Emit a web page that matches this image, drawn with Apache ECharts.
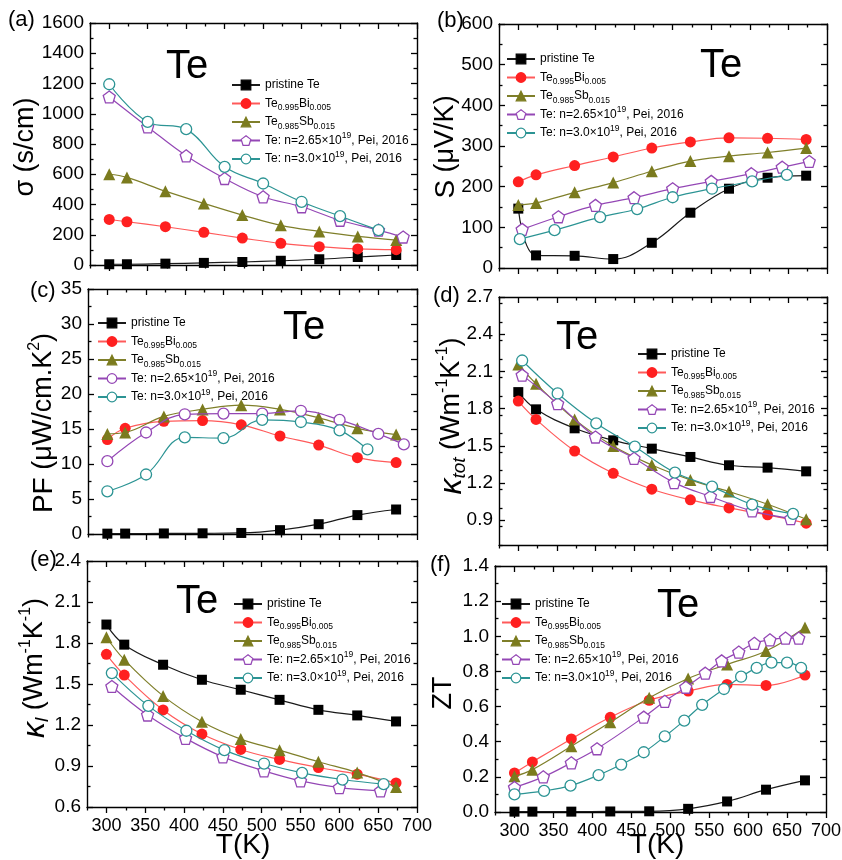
<!DOCTYPE html>
<html>
<head>
<meta charset="utf-8">
<script src="https://cdn.jsdelivr.net/npm/echarts@6/dist/echarts.min.js"></script>
<style>
  html, body { margin: 0; padding: 0; background: #fff; }
  #chart { width: 842px; height: 860px; }
</style>
</head>
<body>
<div id="chart"></div>
<script>
// ---------- measured data ----------
// temperatures shared by pristine Te, Te0.995Bi0.005 and Te0.985Sb0.015
const T_SAMPLE = [300, 323, 373, 423, 473, 523, 573, 623, 673];

// (a) electrical conductivity, S/cm
const sigmaPristine = [5, 5, 9, 14, 20, 28, 38, 53, 66];
const sigmaBi = [301, 286, 253, 216, 178, 143, 121, 106, 101];
const sigmaSb = [600, 579, 488, 407, 330, 262, 222, 189, 165];
const sigmaPei265T = [300, 350, 400, 450, 500, 550, 600, 650, 682];
const sigmaPei265 = [1111, 913, 722, 572, 451, 385, 296, 231, 185];
const sigmaPei30T = [300, 350, 400, 450, 500, 550, 600, 650];
const sigmaPei30 = [1195, 946, 898, 649, 539, 418, 323, 231];

// (b) Seebeck coefficient, uV/K
const seebeckPristine = [146, 31, 30, 22, 62, 136, 195, 222, 227];
const seebeckBi = [212, 229, 252, 273, 295, 310, 320, 319, 316];
const seebeckSb = [155, 160, 186, 210, 238, 263, 275, 284, 295];
const seebeckPei265T = [305, 352, 400, 450, 500, 550, 602, 642, 677];
const seebeckPei265 = [95, 126, 154, 173, 195, 213, 232, 248, 262];
const seebeckPei30T = [302, 347, 406, 454, 500, 551, 603, 648];
const seebeckPei30 = [71, 93, 125, 145, 174, 195, 213, 229];

// (c) power factor, uW/cm.K^2
const pfPristine = [0.05, 0.06, 0.08, 0.1, 0.15, 0.55, 1.4, 2.7, 3.5];
const pfBi = [13.5, 15.1, 16.1, 16.2, 15.6, 14.0, 12.7, 10.9, 10.2];
const pfSb = [14.3, 14.5, 16.8, 17.8, 18.4, 17.8, 16.6, 15.1, 14.2];
const pfPei265T = [300, 350, 400, 450, 500, 550, 600, 650, 683];
const pfPei265 = [10.4, 14.5, 17.1, 17.2, 17.2, 17.6, 16.3, 14.3, 12.8];
const pfPei30T = [300, 350, 400, 450, 500, 550, 600, 636];
const pfPei30 = [6.1, 8.5, 13.8, 13.7, 16.3, 16.0, 14.8, 12.1];

// (d) total thermal conductivity, W/mK
const ktotPristine = [1.933, 1.794, 1.641, 1.544, 1.477, 1.410, 1.343, 1.324, 1.294];
const ktotBi = [1.861, 1.713, 1.458, 1.278, 1.150, 1.064, 0.999, 0.943, 0.876];
const ktotSb = [2.156, 2.0, 1.713, 1.498, 1.345, 1.225, 1.131, 1.029, 0.908];
const ktotPei265T = [305, 351, 400, 450, 502, 549, 603, 653];
const ktotPei265 = [2.07, 1.84, 1.571, 1.399, 1.203, 1.091, 0.975, 0.913];
const ktotPei30T = [305, 351, 401, 451, 503, 551, 603, 656];
const ktotPei30 = [2.188, 1.922, 1.681, 1.493, 1.284, 1.171, 1.026, 0.951];

// (e) lattice thermal conductivity, W/mK
const klatPristine = [1.935, 1.788, 1.641, 1.531, 1.458, 1.384, 1.311, 1.270, 1.226];
const klatBi = [1.717, 1.565, 1.310, 1.134, 1.021, 0.948, 0.889, 0.840, 0.776];
const klatSb = [1.842, 1.678, 1.413, 1.224, 1.097, 1.016, 0.931, 0.852, 0.747];
const klatPei265T = [307, 353, 402, 450, 503, 550, 600, 653];
const klatPei265 = [1.482, 1.273, 1.102, 0.967, 0.864, 0.791, 0.742, 0.718];
const klatPei30T = [307, 354, 403, 452, 503, 552, 604, 657];
const klatPei30 = [1.580, 1.340, 1.158, 1.016, 0.918, 0.850, 0.801, 0.767];

// (f) figure of merit
const ztPristine = [0.002, 0.002, 0.002, 0.003, 0.004, 0.018, 0.06, 0.127, 0.18];
const ztBi = [0.222, 0.285, 0.416, 0.539, 0.636, 0.688, 0.726, 0.720, 0.779];
const ztSb = [0.203, 0.241, 0.374, 0.511, 0.650, 0.760, 0.840, 0.916, 1.05];
const ztPei265T = [300, 337, 373, 406, 466, 493, 520, 545, 566, 588, 608, 628, 648, 665];
const ztPei265 = [0.14, 0.20, 0.28, 0.36, 0.54, 0.63, 0.71, 0.79, 0.86, 0.91, 0.96, 0.98, 0.99, 0.99];
const ztPei30T = [300, 338, 372, 408, 437, 466, 493, 518, 541, 569, 591, 611, 630, 650, 668];
const ztPei30 = [0.10, 0.12, 0.15, 0.21, 0.27, 0.34, 0.43, 0.52, 0.61, 0.70, 0.77, 0.82, 0.85, 0.85, 0.82];

// temperature axis ticks
const T_MAJOR = [300, 350, 400, 450, 500, 550, 600, 650, 700];
const T_MINOR = [275, 325, 375, 425, 475, 525, 575, 625, 675];

// legend entries
const KEYS = ['pristine', 'bi', 'sb', 'p265', 'p30'];
const LEGEND_TEXT = {
  pristine: 'pristine Te',
  bi: 'Te{sub|0.995}Bi{sub|0.005}',
  sb: 'Te{sub|0.985}Sb{sub|0.015}',
  p265: 'Te: n=2.65\u00d710{sup|19}, Pei, 2016',
  p30: 'Te: n=3.0\u00d710{sup|19}, Pei, 2016'
};

// ---------- styling ----------
const FONT = '"Liberation Sans", Arial, Helvetica, sans-serif';
const PENTAGON = 'path://M50,0 L97.55,34.55 L79.39,90.45 L20.61,90.45 L2.45,34.55 Z';
const STYLE = {
  pristine: { symbol: 'rect', size: 10, fill: '#000000', stroke: '#000000', line: '#1a1a1a', bw: 0 },
  bi:       { symbol: 'circle', size: 11, fill: '#ff2020', stroke: '#ff2020', line: '#ff5a5a', bw: 0 },
  sb:       { symbol: 'triangle', size: 12, fill: '#7b7b1e', stroke: '#7b7b1e', line: '#7f7f2a', bw: 0 },
  p265:     { symbol: PENTAGON, size: 12, fill: '#ffffff', stroke: '#9447b5', line: '#9447b5', bw: 1.3 },
  p30:      { symbol: 'circle', size: 11, fill: '#ffffff', stroke: '#2c9494', line: '#2c9494', bw: 1.3 }
};

function range(a, b, step) {
  const out = [];
  for (let i = 0; a + i * step <= b + 1e-9; i++) out.push(+(a + i * step).toFixed(6));
  return out;
}

const panels = [
  { id: 'a', grid: { left: 90, top: 23, width: 327, height: 242 },
    y: { min: 0, max: 1600, major: 200, minor: 100, dec: 0 },
    series: { pristine: [T_SAMPLE, sigmaPristine], bi: [T_SAMPLE, sigmaBi], sb: [T_SAMPLE, sigmaSb],
              p265: [sigmaPei265T, sigmaPei265], p30: [sigmaPei30T, sigmaPei30] },
    p265Symbol: PENTAGON, xLabels: false,
    letter: { text: '(a)', x: 8, y: 22 }, te: { x: 187, y: 67 }, legend: { left: 231, top: 76 },
    title: { x: 26, y: 147, text: '{s|\u03c3 (s/cm)}' } },
  { id: 'b', grid: { left: 499, top: 24, width: 328, height: 244 },
    y: { min: 0, max: 600, major: 100, minor: 50, dec: 0 },
    series: { pristine: [T_SAMPLE, seebeckPristine], bi: [T_SAMPLE, seebeckBi], sb: [T_SAMPLE, seebeckSb],
              p265: [seebeckPei265T, seebeckPei265], p30: [seebeckPei30T, seebeckPei30] },
    p265Symbol: PENTAGON, xLabels: false,
    letter: { text: '(b)', x: 437, y: 23 }, te: { x: 721, y: 66 }, legend: { left: 506, top: 50 },
    title: { x: 446, y: 147, text: '{b|S} {s|(\u03bcV/K)}' } },
  { id: 'c', grid: { left: 88, top: 289, width: 329, height: 245 },
    y: { min: 0, max: 35, major: 5, minor: 2.5, dec: 0 },
    series: { pristine: [T_SAMPLE, pfPristine], bi: [T_SAMPLE, pfBi], sb: [T_SAMPLE, pfSb],
              p265: [pfPei265T, pfPei265], p30: [pfPei30T, pfPei30] },
    p265Symbol: 'circle', xLabels: false,
    letter: { text: '(c)', x: 30, y: 293 }, te: { x: 304, y: 328 }, legend: { left: 97, top: 314 },
    title: { x: 44, y: 423, text: '{b|PF} {s|(\u03bcW/cm.K}{sup|2}{s|)}' } },
  { id: 'd', grid: { left: 499, top: 297, width: 328, height: 248 },
    y: { min: 0.7, max: 2.7, major: 0.3, minor: 0.15, dec: 1, first: 0.9 },
    series: { pristine: [T_SAMPLE, ktotPristine], bi: [T_SAMPLE, ktotBi], sb: [T_SAMPLE, ktotSb],
              p265: [ktotPei265T, ktotPei265], p30: [ktotPei30T, ktotPei30] },
    p265Symbol: PENTAGON, xLabels: false,
    letter: { text: '(d)', x: 433, y: 298 }, te: { x: 577, y: 338 }, legend: { left: 637, top: 345 },
    title: { x: 452, y: 416, text: '{k|\u03ba}{sub|tot} {s|(Wm}{sup|-1}{s|K}{sup|-1}{s|)}' } },
  { id: 'e', grid: { left: 87, top: 561, width: 330, height: 246 },
    y: { min: 0.6, max: 2.4, major: 0.3, minor: 0.15, dec: 1 },
    series: { pristine: [T_SAMPLE, klatPristine], bi: [T_SAMPLE, klatBi], sb: [T_SAMPLE, klatSb],
              p265: [klatPei265T, klatPei265], p30: [klatPei30T, klatPei30] },
    p265Symbol: PENTAGON, xLabels: true,
    letter: { text: '(e)', x: 30, y: 562 }, te: { x: 197, y: 602 }, legend: { left: 233, top: 595 },
    title: { x: 35, y: 668, text: '{k|\u03ba}{sub|l} {s|(Wm}{sup|-1}{s|K}{sup|-1}{s|)}' },
    xTitle: { x: 243, y: 845 } },
  { id: 'f', grid: { left: 495, top: 566, width: 331, height: 246 },
    y: { min: 0, max: 1.4, major: 0.2, minor: 0.1, dec: 1 },
    series: { pristine: [T_SAMPLE, ztPristine], bi: [T_SAMPLE, ztBi], sb: [T_SAMPLE, ztSb],
              p265: [ztPei265T, ztPei265], p30: [ztPei30T, ztPei30] },
    p265Symbol: PENTAGON, xLabels: true,
    letter: { text: '(f)', x: 430, y: 567 }, te: { x: 678, y: 606 }, legend: { left: 501, top: 595 },
    title: { x: 444, y: 693, text: '{s|ZT}' },
    xTitle: { x: 657, y: 845 } }
];

// ---------- option assembly ----------
const AXIS_COLOR = '#000';
const grids = [], xAxes = [], yAxes = [], series = [], legends = [], graphics = [];

panels.forEach((p, gi) => {
  grids.push(Object.assign({ containLabel: false, outerBoundsMode: 'none' }, p.grid));

  // temperature axes: bottom (ticks outward) and mirrored top (ticks inward)
  const xBase = {
    type: 'value', gridIndex: gi, min: 275, max: 700,
    splitLine: { show: false },
    axisLine: { show: true, onZero: false, lineStyle: { color: AXIS_COLOR, width: 1.4 } }
  };
  const tickLine = { color: AXIS_COLOR, width: 1.3 };
  xAxes.push(Object.assign({}, xBase, {
    position: 'bottom',
    axisTick: { show: true, inside: false, length: 6, customValues: T_MAJOR, lineStyle: tickLine },
    axisLabel: { show: p.xLabels, customValues: T_MAJOR, fontSize: 18, margin: 10,
                 color: '#000', fontFamily: FONT }
  }));
  xAxes.push(Object.assign({}, xBase, {
    position: 'bottom', axisLine: { show: false, onZero: false },
    axisTick: { show: true, inside: false, length: 3.5, customValues: T_MINOR, lineStyle: tickLine },
    axisLabel: { show: false }
  }));
  xAxes.push(Object.assign({}, xBase, {
    position: 'top',
    axisTick: { show: true, inside: true, length: 6, customValues: T_MAJOR, lineStyle: tickLine },
    axisLabel: { show: false }
  }));
  xAxes.push(Object.assign({}, xBase, {
    position: 'top', axisLine: { show: false, onZero: false },
    axisTick: { show: true, inside: true, length: 3.5, customValues: T_MINOR, lineStyle: tickLine },
    axisLabel: { show: false }
  }));

  // value axes: left with labels and mirrored right, ticks inward on both
  const y = p.y;
  const majors = range(y.first !== undefined ? y.first : y.min, y.max, y.major);
  const minors = range(y.min, y.max, y.minor).filter(v =>
    !majors.some(m => Math.abs(m - v) < 1e-6));
  const yBase = {
    type: 'value', gridIndex: gi, min: y.min, max: y.max,
    splitLine: { show: false },
    axisLine: { show: true, onZero: false, lineStyle: { color: AXIS_COLOR, width: 1.4 } }
  };
  yAxes.push(Object.assign({}, yBase, {
    position: 'left',
    axisTick: { show: true, inside: true, length: 6, customValues: majors, lineStyle: tickLine },
    axisLabel: { show: true, customValues: majors, fontSize: 19, margin: 6, color: '#000',
                 fontFamily: FONT, formatter: v => (+v).toFixed(y.dec) }
  }));
  yAxes.push(Object.assign({}, yBase, {
    position: 'left', axisLine: { show: false, onZero: false },
    axisTick: { show: true, inside: true, length: 3.5, customValues: minors, lineStyle: tickLine },
    axisLabel: { show: false }
  }));
  yAxes.push(Object.assign({}, yBase, {
    position: 'right',
    axisTick: { show: true, inside: true, length: 6, customValues: majors, lineStyle: tickLine },
    axisLabel: { show: false }
  }));
  yAxes.push(Object.assign({}, yBase, {
    position: 'right', axisLine: { show: false, onZero: false },
    axisTick: { show: true, inside: true, length: 3.5, customValues: minors, lineStyle: tickLine },
    axisLabel: { show: false }
  }));

  // data series
  KEYS.forEach((key, k) => {
    const st = STYLE[key];
    const [xs, ys] = p.series[key];
    const symbol = key === 'p265' ? p.p265Symbol : st.symbol;
    const size = key === 'p265' && symbol === 'circle' ? 11 : st.size;
    series.push({
      type: 'line',
      name: key + '@' + p.id,
      xAxisIndex: gi * 4,
      yAxisIndex: gi * 4,
      data: xs.map((x, i) => [x, ys[i]]),
      smooth: 0.4,
      symbol: symbol,
      symbolSize: size,
      showAllSymbol: true,
      itemStyle: { color: st.fill, borderColor: st.stroke, borderWidth: st.bw, opacity: 1 },
      lineStyle: { color: st.line, width: 1.2 },
      emphasis: { disabled: true },
      z: 2 + k
    });
  });

  legends.push({
    orient: 'vertical',
    left: p.legend.left,
    top: p.legend.top,
    padding: 0,
    itemGap: 0.5,
    itemWidth: 28,
    itemHeight: 12,
    selectedMode: false,
    data: KEYS.map(key => key + '@' + p.id),
    formatter: name => LEGEND_TEXT[name.split('@')[0]],
    itemStyle: { borderWidth: 1.2 },
    textStyle: {
      fontSize: 12, fontFamily: FONT, color: '#000', lineHeight: 18,
      rich: {
        sub: { fontSize: 8.5, lineHeight: 10, verticalAlign: 'bottom', fontFamily: FONT, color: '#000' },
        sup: { fontSize: 8.5, lineHeight: 10, verticalAlign: 'top', fontFamily: FONT, color: '#000' }
      }
    }
  });

  // panel letter
  graphics.push({
    type: 'text', left: p.letter.x, top: p.letter.y - 13,
    style: { text: p.letter.text, fontSize: 22, fontFamily: FONT, fill: '#000' }
  });
  // material tag
  graphics.push({
    type: 'text', x: p.te.x, y: p.te.y,
    style: { text: 'Te', fontSize: 40, fontFamily: FONT, fill: '#000', align: 'center', verticalAlign: 'middle' }
  });
  // quantity label along the value axis
  graphics.push({
    type: 'text', x: p.title.x, y: p.title.y, rotation: Math.PI / 2,
    style: {
      text: p.title.text, fontSize: 27, fontFamily: FONT, fill: '#000',
      align: 'center', verticalAlign: 'middle',
      rich: {
        b: { fontSize: 28, lineHeight: 34, fontFamily: FONT },
        s: { fontSize: 27, lineHeight: 34, fontFamily: FONT },
        k: { fontSize: 32, lineHeight: 34, fontStyle: 'italic', fontFamily: FONT },
        sub: { fontSize: 19, lineHeight: 19, verticalAlign: 'bottom', fontStyle: 'italic', fontFamily: FONT },
        sup: { fontSize: 16, lineHeight: 16, verticalAlign: 'top', fontFamily: FONT }
      }
    }
  });
  if (p.xTitle) {
    graphics.push({
      type: 'text', x: p.xTitle.x, y: p.xTitle.y,
      style: { text: 'T(K)', fontSize: 28, fontFamily: FONT, fill: '#000', align: 'center', verticalAlign: 'middle' }
    });
  }
});

const chart = echarts.init(document.getElementById('chart'), null, { renderer: 'canvas' });
chart.setOption({
  animation: false,
  backgroundColor: '#ffffff',
  grid: grids,
  xAxis: xAxes,
  yAxis: yAxes,
  legend: legends,
  series: series,
  graphic: graphics
});
</script>
</body>
</html>
